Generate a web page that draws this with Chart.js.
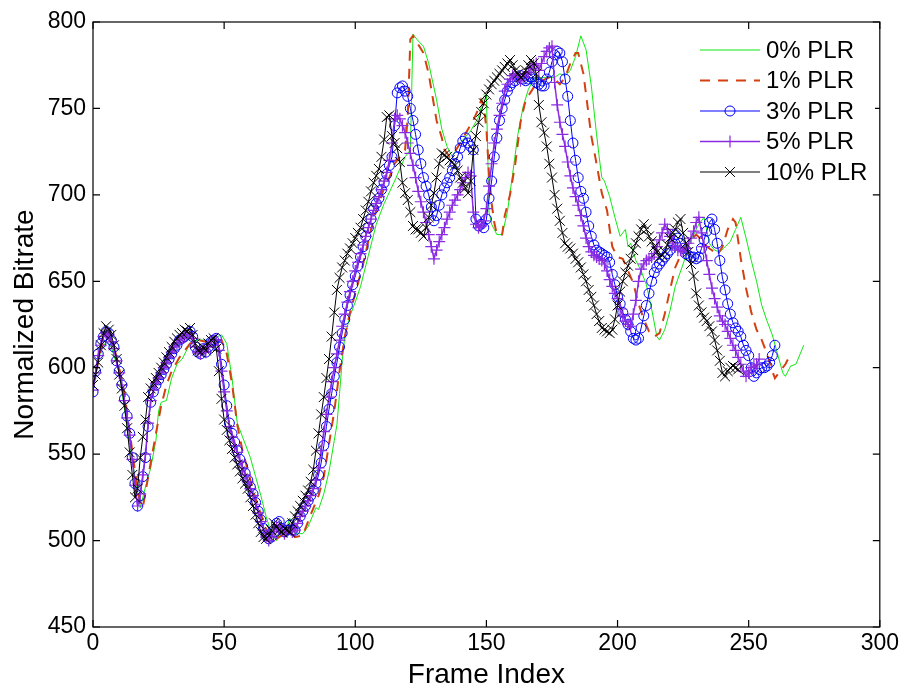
<!DOCTYPE html>
<html>
<head>
<meta charset="utf-8">
<title>Normalized Bitrate vs Frame Index</title>
<script src="https://cdn.jsdelivr.net/npm/chart.js@4.4.1/dist/chart.umd.min.js"></script>
<style>
  html, body { margin: 0; padding: 0; background: #fff; }
  #plot { display: block; }
</style>
</head>
<body>
<canvas id="plot" width="902" height="692"></canvas>
<script>
const xTicks = [0, 50, 100, 150, 200, 250, 300];
const yTicks = [450, 500, 550, 600, 650, 700, 750, 800];
const seriesNames = ['0% PLR', '1% PLR', '3% PLR', '5% PLR', '10% PLR'];

// 0% and 1% are plain lines, stored as (frame, value) pairs
const frames0 = [0,3,5,7,10,14,18,20,22,24,25,26,28,30,32,34,37,40,43,46,49,51,53,55,57,60,62,64,66,68,
  70,72,73,75,77,80,82,85,86,88,90,92,93,94,95,96,98,100,102,105,108,111,115,119,121,122,124,126,128,131,
  133,135,137,140,144,147,149,150,151,152,154,156,158,160,162,164,166,168,172,176,178,180,182,184,186,188,
  190,192,193,194,195,197,199,201,203,204,205,207,209,211,213,215,216,218,220,222,225,228,231,233,235,237,
  239,241,243,245,247,249,251,253,255,257,259,261,263,264,266,268,271];
const plr0 = [590,610,615,612,597,555,519,531,542,558,575,580,581,594,602,605,614,616,616,617,619,614,594,568,560,548,537,526,514,504,
  500,506,503,513,504,504,508,519,518,527,540,558,567,585,604,618,630,638,647,665,683,695,708,722,726,793,789,786,776,755,
  738,728,722,730,737,745,757,758,690,683,677,677,690,712,735,751,761,767,768,768,770,769,772,780,792,784,
  763,735,722,710,708,699,687,676,680,670,672,662,656,648,634,618,616,622,633,647,660,674,683,687,672,668,
  667,670,673,680,687,675,662,650,636,627,619,608,597,595,601,602,613];

const frames1 = [0,2,4,6,8,10,12,14,16,18,19,20,22,24,25,26,28,30,33,35,37,40,43,46,49,51,53,55,57,59,
  61,63,65,67,69,72,75,77,80,83,86,88,90,92,94,96,98,100,103,106,108,111,113,115,117,119,120,121,122,124,
  126,128,129,130,131,133,134,136,138,140,143,145,147,148,149,150,151,152,153,154,156,157,159,161,163,165,168,171,174,176,
  178,180,182,184,185,186,187,188,189,190,192,194,196,197,198,200,202,204,206,208,210,212,214,216,218,220,222,224,226,228,
  230,232,234,236,238,240,242,244,245,247,249,251,253,255,257,259,260,262,264,266];
const plr1 = [588,604,615,618,612,600,585,563,540,521,519,528,545,562,570,578,590,598,606,610,614,616,615,616,616,608,591,567,552,541,
  529,520,511,503,500,503,505,502,503,515,526,537,556,575,598,618,632,643,660,680,691,704,710,718,722,726,745,790,792,787,
  782,770,761,752,743,733,726,722,725,730,738,743,750,755,752,738,712,695,684,677,677,688,700,718,742,755,762,766,768,767,
  764,768,776,782,782,776,770,758,746,734,718,701,691,680,670,664,663,656,649,637,628,621,618,620,631,645,658,665,670,674,
  677,674,670,668,665,670,680,686,684,663,646,632,622,616,608,598,594,598,602,608];

// marker series: one value per frame, starting at frame 0
const plr3 = [
  586,598,608,614,618,621,620,616,612,604, 598,590,582,572,562,548,533,520,526,537,
  548,566,580,586,590,593,596,599,602,605, 608,611,613,616,617,618,620,621,618,612,
  609,608,611,609,612,615,616,617,612,602, 590,578,568,562,557,552,547,543,539,535,
  531,527,522,517,512,507,503,501,502,505, 510,511,507,505,506,509,506,506,510,514,
  517,520,523,526,529,533,538,545,555,566, 576,585,595,603,612,620,628,636,642,648,
  653,659,664,670,676,681,686,692,695,698, 703,707,712,717,722,740,759,762,763,760,
  757,750,743,735,726,718,710,705,700,693, 685,688,694,700,704,707,710,714,718,722,
  727,731,733,730,728,726,686,682,683,681, 686,698,708,722,733,743,750,755,760,763,
  765,766,768,769,767,766,767,768,767,765, 764,763,763,767,771,777,781,783,782,777,
  767,757,743,730,720,710,702,698,690,682, 676,671,668,667,666,665,664,661,654,648,
  641,637,632,628,625,621,617,616,617,623, 630,636,643,650,655,658,660,662,664,666,
  668,672,677,675,672,669,666,665,664,664, 663,664,669,674,679,684,686,680,672,662,
  652,645,637,631,626,623,621,618,613,610, 607,600,595,597,599,600,600,601,603,607,
  613];
const plr5 = [
  587,597,607,613,618,620,619,615,611,604, 597,590,581,571,561,547,532,520,527,538,
  550,568,581,587,591,594,597,600,603,606, 609,612,614,616,617,618,619,620,617,612,
  609,608,611,609,612,615,616,616,610,598, 586,575,566,560,555,551,546,542,538,534,
  530,526,521,516,511,506,502,500,502,505, 508,509,506,504,505,507,505,506,510,514,
  517,520,523,526,530,535,542,552,563,573, 583,592,600,608,616,624,631,638,644,650,
  656,661,666,671,676,681,686,691,695,699, 703,708,713,720,730,744,746,744,740,736,
  730,724,717,710,702,696,690,684,677,670, 663,668,673,677,681,686,690,694,697,700,
  703,707,710,713,711,690,683,681,682,685, 692,705,718,730,738,746,753,760,764,767,
  769,770,768,766,768,770,771,773,775,776, 772,776,780,783,785,786,765,752,742,735,
  728,719,711,704,699,694,688,682,675,670, 667,665,664,663,662,660,656,651,647,643,
  640,634,630,627,625,624,631,639,650,657, 660,662,663,664,666,670,674,678,683,680,
  676,672,670,668,668,667,669,672,675,679, 684,687,678,670,662,654,646,640,635,630,
  627,625,621,617,613,610,606,602,598,595, 597,600,601,602,605];
const plr10 = [
  590,596,603,613,620,624,622,619,613,605, 596,588,578,565,551,538,525,530,548,560,
  570,583,588,591,594,597,600,603,606,609, 612,615,617,619,620,622,621,623,619,614,
  610,609,612,610,614,616,617,611,598,582, 570,564,558,553,548,544,540,536,533,530,
  525,520,515,510,505,502,501,503,506,510, 508,506,505,507,506,505,510,514,517,520,
  523,526,529,534,541,552,562,573,583,594, 605,618,632,645,652,658,662,666,669,672,
  675,678,681,686,691,696,702,707,711,715, 722,732,745,746,734,730,727,719,707,701,
  697,690,682,680,680,678,676,681,687,694, 701,710,718,724,723,722,720,719,717,714,
  710,707,704,701,708,726,734,742,748,753, 758,761,764,766,768,770,772,774,776,778,
  775,772,770,768,769,772,775,778,776,770, 752,742,736,728,718,710,700,692,685,678,
  672,670,669,666,663,661,658,654,650,645, 641,636,631,627,623,622,621,620,622,628,
  636,644,650,655,659,663,668,672,676,680, 683,680,676,673,670,667,664,665,667,671,
  675,678,680,684,686,678,672,667,660,653, 643,636,632,629,627,624,621,616,610,604,
  597,595,598,600,601,600,599];

const FONT = "'Liberation Sans', Arial, Helvetica, sans-serif";

function toPoints(xs, ys) {
  return ys.map((v, i) => ({ x: xs ? xs[i] : i, y: v }));
}

// box around the axes with inward ticks on all four sides
const axesBox = {
  id: 'axesBox',
  afterDatasetsDraw(chart) {
    const { ctx, chartArea: a, scales: { x, y } } = chart;
    const len = 7;
    ctx.save();
    ctx.strokeStyle = '#000';
    ctx.lineWidth = 1.2;
    ctx.beginPath();
    x.ticks.forEach(t => {
      const px = x.getPixelForValue(t.value);
      ctx.moveTo(px, a.bottom); ctx.lineTo(px, a.bottom - len);
      ctx.moveTo(px, a.top); ctx.lineTo(px, a.top + len);
    });
    y.ticks.forEach(t => {
      const py = y.getPixelForValue(t.value);
      ctx.moveTo(a.left, py); ctx.lineTo(a.left + len, py);
      ctx.moveTo(a.right, py); ctx.lineTo(a.right - len, py);
    });
    ctx.stroke();
    ctx.strokeRect(a.left, a.top, a.right - a.left, a.bottom - a.top);
    ctx.restore();
  }
};

// legend: short line sample with the marker in its middle
const lineLegend = {
  id: 'lineLegend',
  afterDraw(chart) {
    const { ctx } = chart;
    const x0 = 700, x1 = 760, top = 50, step = 30.5;
    ctx.save();
    ctx.fillStyle = '#fff';
    ctx.fillRect(694, 34, 181, 160);
    chart.data.datasets.forEach((ds, i) => {
      const yy = top + i * step;
      ctx.strokeStyle = ds.borderColor;
      ctx.lineWidth = ds.borderWidth;
      ctx.setLineDash(ds.borderDash || []);
      ctx.beginPath();
      ctx.moveTo(x0, yy);
      ctx.lineTo(x1, yy);
      ctx.stroke();
      ctx.setLineDash([]);
      if (ds.pointRadius > 0) {
        ctx.strokeStyle = ds.borderColor;
        ctx.fillStyle = 'rgba(0,0,0,0)';
        ctx.lineWidth = ds.pointBorderWidth;
        Chart.helpers.drawPoint(ctx, {
          pointStyle: ds.pointStyle, radius: ds.pointRadius, rotation: 0, borderWidth: ds.pointBorderWidth
        }, (x0 + x1) / 2, yy);
      }
      ctx.fillStyle = '#000';
      ctx.font = '24px ' + FONT;
      ctx.textBaseline = 'middle';
      ctx.textAlign = 'left';
      ctx.fillText(ds.label, 766, yy + 1);
    });
    ctx.restore();
  }
};

new Chart(document.getElementById('plot'), {
  type: 'line',
  data: {
    datasets: [
      {
        label: seriesNames[0], data: toPoints(frames0, plr0),
        borderColor: '#11e811', borderWidth: 1, pointRadius: 0, order: 5
      },
      {
        label: seriesNames[1], data: toPoints(frames1, plr1),
        borderColor: '#d4400f', borderWidth: 2, borderDash: [10, 8], pointRadius: 0, order: 4
      },
      {
        label: seriesNames[2], data: toPoints(null, plr3),
        borderColor: '#0000ff', borderWidth: 1,
        pointStyle: 'circle', pointRadius: 5, pointBorderWidth: 1,
        pointBorderColor: '#0000ff', pointBackgroundColor: 'rgba(0,0,0,0)', order: 3
      },
      {
        label: seriesNames[3], data: toPoints(null, plr5),
        borderColor: '#8a2be2', borderWidth: 1.5,
        pointStyle: 'cross', pointRadius: 6, pointBorderWidth: 1.2,
        pointBorderColor: '#8a2be2', order: 2
      },
      {
        label: seriesNames[4], data: toPoints(null, plr10),
        borderColor: '#000000', borderWidth: 1,
        pointStyle: 'crossRot', pointRadius: 7, pointBorderWidth: 1,
        pointBorderColor: '#000000', order: 1
      }
    ]
  },
  options: {
    responsive: false,
    animation: false,
    devicePixelRatio: 1,
    layout: { padding: { left: 0, right: 21, top: 22, bottom: 0 } },
    elements: { line: { tension: 0, fill: false } },
    plugins: {
      legend: { display: false },
      tooltip: { enabled: false }
    },
    scales: {
      x: {
        type: 'linear', min: 0, max: 300,
        afterBuildTicks: s => { s.ticks = xTicks.map(v => ({ value: v })); },
        afterFit: s => { s.height = 65; },
        grid: { display: false, drawTicks: false },
        border: { display: false },
        ticks: { color: '#000', padding: 3, maxRotation: 0, font: { family: FONT, size: 23 } },
        title: {
          display: true, text: 'Frame Index', color: '#000',
          padding: { top: 0, bottom: 0 }, font: { family: FONT, size: 28 }
        }
      },
      y: {
        type: 'linear', min: 450, max: 800,
        afterBuildTicks: s => { s.ticks = yTicks.map(v => ({ value: v })); },
        afterFit: s => { s.width = 93; },
        grid: { display: false, drawTicks: false },
        border: { display: false },
        ticks: { color: '#000', padding: 7, font: { family: FONT, size: 23 } },
        title: {
          display: true, text: 'Normalized Bitrate', color: '#000',
          padding: { top: 8, bottom: 0 }, font: { family: FONT, size: 28 }
        }
      }
    }
  },
  plugins: [axesBox, lineLegend]
});
</script>
</body>
</html>
